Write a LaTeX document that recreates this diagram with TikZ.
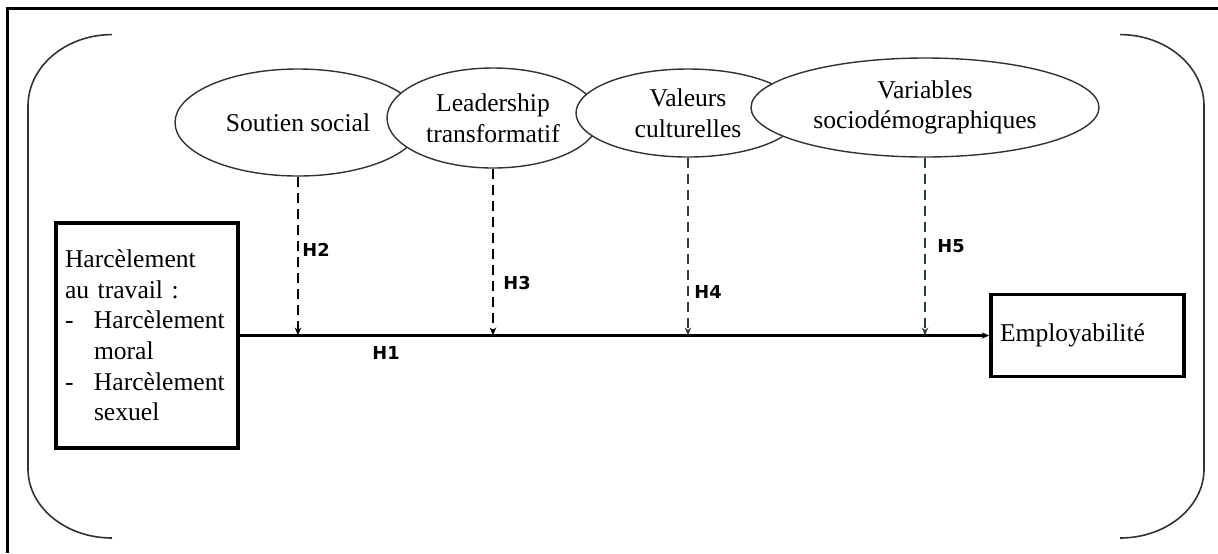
\documentclass[tikz,border=0pt]{standalone}
\usepackage{fontspec}
\setmainfont{Liberation Serif}
\newfontfamily\hfont{DejaVu Sans}
\usetikzlibrary{shapes.geometric,arrows.meta}
\definecolor{depgreen}{RGB}{45,60,50}
\definecolor{outl}{RGB}{50,50,50}
\tikzset{
  txt/.style={font=\fontsize{12.8}{15.3}\selectfont},
  oval/.style={ellipse, draw=outl, line width=0.7pt, fill=white, inner sep=0pt, txt, align=center},
  boxnode/.style={draw=black, line width=1.7pt, txt, align=left, inner ysep=0pt},
  hlab/.style={font=\hfont\bfseries\fontsize{8.9}{10}\selectfont, inner sep=0pt},
  dep/.style={line width=1.3pt, dash pattern=on 5pt off 3pt, -{Stealth[length=4pt,width=3.2pt]}},
  mainline/.style={line width=1.4pt, -{Stealth[length=3.8pt,width=3.2pt]}},
  bracket/.style={draw=outl, line width=0.8pt},
  frameline/.style={line width=1.5pt}
}
\begin{document}
\begin{tikzpicture}[x=0.5pt,y=-0.5pt]
\useasboundingbox (0,0) rectangle (1218,553);
% frame (top and left edges)
\draw[frameline] (7.5,553) -- (7.5,8.5) -- (1218,8.5);
% brackets
\draw[bracket] (112,34.6) .. controls (65.6,34.6) and (28,66.6) .. (28,106) -- (28,469) .. controls (28,507) and (65.6,538) .. (112,538);
\draw[bracket] (1120,34.6) .. controls (1166.4,34.6) and (1204,66.6) .. (1204,106) -- (1204,469) .. controls (1204,507) and (1166.4,538) .. (1120,538);
% ellipses
\node[oval, minimum width=123pt, minimum height=53.5pt] (sout) at (298,122.5) {Soutien social};
\node[oval, minimum width=106pt, minimum height=50pt] (lead) at (493,118) {Leadership\\transformatif};
\node[oval, minimum width=112pt, minimum height=44pt] (val) at (688,113) {Valeurs\\culturelles};
\node[oval, minimum width=174pt, minimum height=49.5pt] (var) at (925,107.5) {Variables\\sociodémographiques};
% boxes
\node[boxnode, text width=82pt, inner xsep=4.5pt, minimum height=112.5pt] (harc) at (147,335.5)
  {Harcèlement\\
   au travail :\\
   \makebox[14.5pt][l]{-}Harcèlement\\
   \hspace*{14.5pt}moral\\
   \makebox[14.5pt][l]{-}Harcèlement\\
   \hspace*{14.5pt}sexuel};
\node[boxnode, text width=87.5pt, inner xsep=4.5pt, minimum height=41pt] (empl) at (1087.5,335.5) {Employabilité};
% main relation
\coordinate (L) at (0,335.5);
\draw[mainline] (harc.east) -- (empl.west);
% moderators
\draw[dep] (sout.south) -- (sout.south |- L);
\draw[dep] (lead.south) -- (lead.south |- L);
\draw[dep, depgreen] (val.south) -- (val.south |- L);
\draw[dep, depgreen] (var.south) -- (var.south |- L);
% labels
\node[hlab] (h1) at (386,353) {H1};
\node[hlab, anchor=west] (h2) at (302,250) {H2};
\node[hlab, anchor=west] (h3) at (503,283) {H3};
\node[hlab, anchor=west] (h4) at (694,292) {H4};
\node[hlab, anchor=west] (h5) at (937,246) {H5};
\end{tikzpicture}
\end{document}
